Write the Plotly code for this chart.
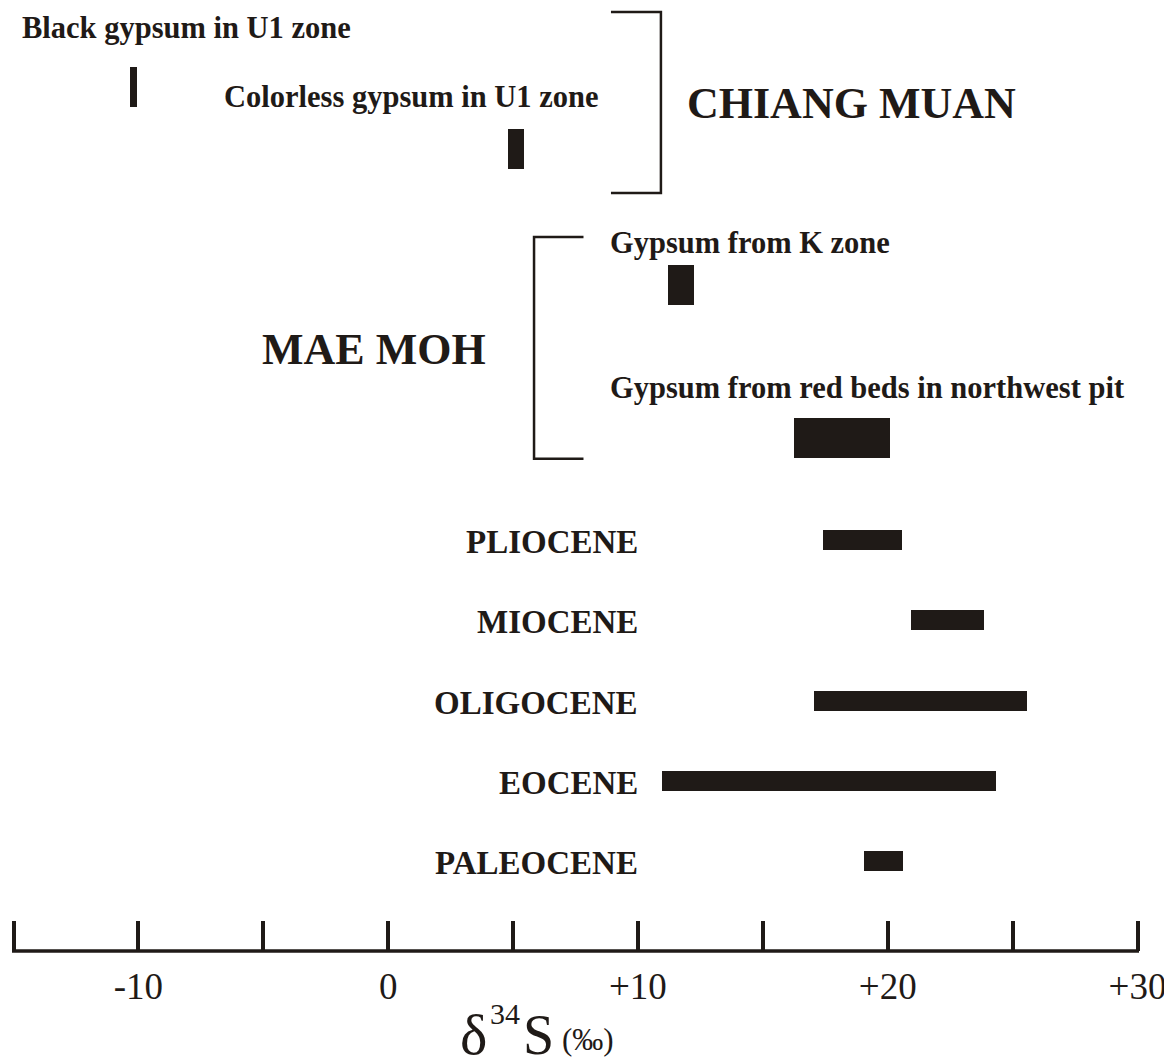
import plotly.graph_objects as go

# ---- data ----
sample_labels = [
    "Black gypsum in U1 zone",
    "Colorless gypsum in U1 zone",
    "Gypsum from K zone",
    "Gypsum from red beds in northwest pit",
]
sample_min = [-10.32, 4.80, 11.20, 16.24]
sample_max = [-10.04, 5.44, 12.24, 20.08]

epoch_labels = ["PLIOCENE", "MIOCENE", "OLIGOCENE", "EOCENE", "PALEOCENE"]
epoch_min = [17.42, 20.92, 17.04, 10.96, 19.04]
epoch_max = [20.59, 23.86, 25.56, 24.32, 20.60]

group_labels = ["CHIANG MUAN", "MAE MOH"]

tick_values = [-15, -10, -5, 0, 5, 10, 15, 20, 25, 30]
tick_labels = ["", "-10", "", "0", "", "+10", "", "+20", "", "+30"]

# ---- layout helpers ----
INK = "#1f1a17"
PAGE_W, PAGE_H = 1172, 1059
BODY = 8                          # default page margin around the plot div
W, H = PAGE_W - BODY, PAGE_H - BODY
X0, X1 = -15.0, 30.0
PAD = 0.06                        # small range pad so the end ticks are drawn
PX_PER_UNIT = 25.0
LEFT_PX = 13                      # page px of x = -15
ML = LEFT_PX - BODY - PAD * PX_PER_UNIT
PLOT_W = (X1 - X0 + 2 * PAD) * PX_PER_UNIT
MR = W - ML - PLOT_W
AXIS_Y = 951.5                    # page px of the axis line
TOP_Y = BODY
MB = PAGE_H - AXIS_Y
PLOT_H = AXIS_Y - TOP_Y


def px_to_x(px):
    return (px - LEFT_PX) / PX_PER_UNIT + X0


def py_to_paper(py):
    return (AXIS_Y - py) / PLOT_H


sample_rows = [87, 149, 285, 438]
sample_thick = [40, 40, 40, 40]
sample_label_pos = [(20, 28), (222, 97), (608, 243), (608, 388)]

epoch_rows = [540, 620.5, 701, 781.5, 861]
epoch_thick = [20, 20, 20, 20, 20]
epoch_label_px = 640

group_label_pos = [(685, 104), (260, 350)]

fig = go.Figure()

all_rows = sample_rows + epoch_rows
all_min = sample_min + epoch_min
all_max = sample_max + epoch_max
all_thick = sample_thick + epoch_thick
all_names = sample_labels + epoch_labels

fig.add_trace(go.Bar(
    orientation="h",
    y=all_rows,
    base=all_min,
    x=[b - a for a, b in zip(all_min, all_max)],
    width=all_thick,
    marker=dict(color=INK, line=dict(width=0)),
    customdata=all_names,
    hovertemplate="%{customdata}: %{base} to %{x}<extra></extra>",
    showlegend=False,
))

annotations = []
serif = "Liberation Serif"
for (px, y), txt in zip(sample_label_pos, sample_labels):
    annotations.append(dict(x=px_to_x(px), y=y, xref="x", yref="y", text=txt, showarrow=False,
                            xanchor="left", yanchor="middle",
                            font=dict(family=serif, size=30.5, color=INK, weight="bold")))
for y, txt in zip(epoch_rows, epoch_labels):
    annotations.append(dict(x=px_to_x(epoch_label_px), y=y + 2, xref="x", yref="y", text=txt,
                            showarrow=False, xanchor="right", yanchor="middle",
                            font=dict(family=serif, size=33, color=INK, weight="bold")))
for (px, y), txt in zip(group_label_pos, group_labels):
    annotations.append(dict(x=px_to_x(px), y=y, xref="x", yref="y", text=txt, showarrow=False,
                            xanchor="left", yanchor="middle",
                            font=dict(family=serif, size=44, color=INK, weight="bold")))

# axis title  δ 34 S (‰)  built from pieces: (text, left px, centre px, size)
title_parts = [("δ", 458, 1035, 58), ("34", 488, 1014, 30), ("S", 521, 1036, 56), ("(‰)", 560, 1040, 31)]
for txt, px, py, size in title_parts:
    annotations.append(dict(x=px_to_x(px), y=py_to_paper(py), xref="x", yref="paper",
                            text=txt, showarrow=False, xanchor="left", yanchor="middle",
                            font=dict(family=serif, size=size, color=INK)))

shapes = [
    dict(type="path", xref="x", yref="y",
         path=f"M {px_to_x(611)},12 L {px_to_x(661)},12 L {px_to_x(661)},193 L {px_to_x(611)},193",
         line=dict(color=INK, width=2.5)),
    dict(type="path", xref="x", yref="y",
         path=f"M {px_to_x(583.5)},237 L {px_to_x(534)},237 L {px_to_x(534)},459 L {px_to_x(583.5)},459",
         line=dict(color=INK, width=2.5)),
    # axis base line, ending exactly at the end ticks
    dict(type="line", xref="x", yref="paper", x0=X0 - PAD, x1=X1 + PAD, y0=0, y1=0,
         line=dict(color=INK, width=3.5)),
]

fig.update_layout(
    width=W, height=H,
    margin=dict(l=ML, r=MR, t=0, b=MB, pad=0),
    plot_bgcolor="white", paper_bgcolor="white",
    annotations=annotations, shapes=shapes,
    xaxis=dict(range=[X0 - PAD, X1 + PAD], tickvals=tick_values, ticktext=tick_labels,
               ticks="inside", ticklen=30, tickwidth=3.5, tickcolor=INK,
               showline=False, showgrid=False, zeroline=False,
               tickfont=dict(family=serif, size=37, color=INK),
               ticklabelstandoff=10, ticklabeloverflow="allow", fixedrange=True),
    yaxis=dict(range=[AXIS_Y, TOP_Y], visible=False, fixedrange=True),
    bargap=0,
)

fig.write_html("out.html")
